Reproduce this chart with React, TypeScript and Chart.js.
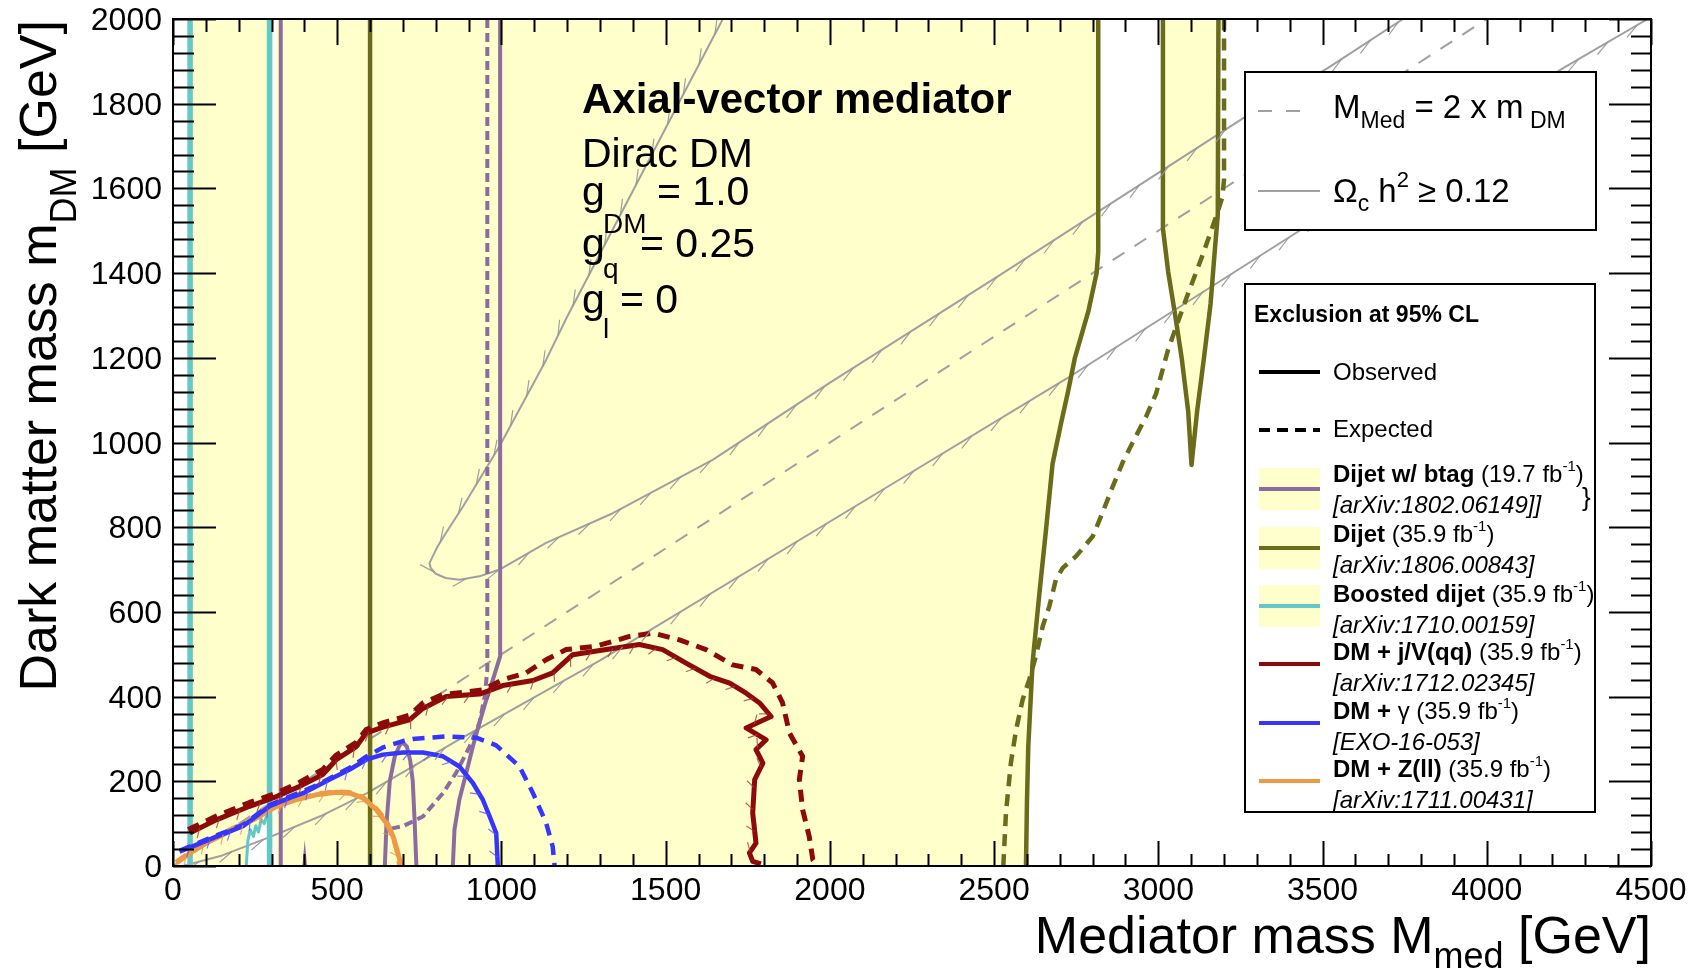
import React, { useEffect, useRef } from "react";
import { Chart, registerables } from "chart.js";

Chart.register(...registerables);

type P = [number, number];

// ---------------- axes ----------------
const X_MIN = 0;
const X_MAX = 4500;
const Y_MIN = 0;
const Y_MAX = 2000;
const X_TICKS = [0, 500, 1000, 1500, 2000, 2500, 3000, 3500, 4000, 4500];
const Y_TICKS = [0, 200, 400, 600, 800, 1000, 1200, 1400, 1600, 1800, 2000];
const X_MINOR_STEP = 100;
const Y_MINOR_STEP = 40;

// ---------------- excluded (yellow) regions ----------------
const yellowMain: P[] = [
  [52, 0], [52, 2000], [2817, 2000], [2817, 1450], [2812, 1400], [2787, 1310], [2746, 1200],
  [2725, 1120], [2704, 1046], [2678, 950], [2658, 794], [2637, 637], [2617, 479], [2604, 282],
  [2600, 150], [2597, 0],
];
const yellowLobe: P[] = [
  [3014, 2000], [3014, 1505], [3030, 1403], [3051, 1302], [3071, 1200], [3091, 1073], [3101, 947],
  [3118, 1073], [3139, 1200], [3159, 1327], [3172, 1454], [3181, 1538], [3183, 2000],
];
const whiteNotch: P[] = [
  [223, 0], [228, 60], [235, 86], [245, 70], [252, 95], [260, 80], [268, 110], [278, 100],
  [289, 125], [291, 0],
];
const whiteGap: P[] = [[309, 0], [309, 2000]];

// ---------------- Boosted dijet (cyan) ----------------
const boostedLeft: P[] = [[52, 0], [52, 2000]];
const boostedRight: P[] = [[294, 2000], [294, 0]];
const boostedJagged: P[] = [
  [294, 130], [285, 118], [278, 100], [268, 110], [260, 80], [252, 95], [245, 70], [235, 86],
  [228, 60], [223, 0],
];

// ---------------- Dijet w/ btag (purple) ----------------
const btagObsLeft: P[] = [[328, 0], [328, 2000]];
const btagObsRight: P[] = [
  [996, 2000], [996, 495], [974, 440], [954, 393], [933, 338], [913, 282], [893, 220], [872, 157],
  [857, 86], [852, 0],
];
const btagObsLobe: P[] = [
  [645, 0], [650, 100], [660, 200], [675, 258], [690, 285], [700, 292], [712, 282], [722, 250],
  [730, 200], [736, 100], [741, 0],
];
const btagSpike: P[] = [[394, 0], [401, 62], [408, 0]];
const btagExp: P[] = [
  [957, 2000], [957, 463], [949, 400], [933, 338], [903, 282], [862, 220], [822, 172], [761, 117],
  [700, 94], [649, 86],
];

// ---------------- Dijet (olive) ----------------
const dijetObsLeft: P[] = [[600, 0], [600, 2000]];
const dijetObsRight: P[] = [
  [2597, 0], [2600, 150], [2604, 282], [2617, 479], [2637, 637], [2658, 794], [2678, 950],
  [2704, 1046], [2725, 1120], [2746, 1200], [2787, 1310], [2812, 1400], [2817, 1450], [2817, 2000],
];
const dijetObsLobe: P[] = [
  [3014, 2000], [3014, 1505], [3030, 1403], [3051, 1302], [3071, 1200], [3091, 1073], [3101, 947],
  [3118, 1073], [3139, 1200], [3159, 1327], [3172, 1454], [3181, 1538], [3183, 2000],
];
const dijetExp: P[] = [
  [2528, 0], [2536, 125], [2551, 243], [2567, 322], [2587, 393], [2607, 440], [2627, 495],
  [2648, 566], [2668, 613], [2688, 676], [2709, 704], [2749, 731], [2800, 778], [2830, 834],
  [2861, 896], [2891, 952], [2921, 999], [2962, 1060], [2993, 1115], [3030, 1220], [3085, 1340],
  [3132, 1437], [3159, 1496], [3179, 1540], [3195, 1580], [3200, 1620], [3200, 2000],
];

// ---------------- DM + j/V(qq) (dark red) ----------------
const monoObs: P[] = [
  [51, 78], [132, 109], [233, 141], [315, 164], [386, 188], [456, 216], [497, 251], [558, 282],
  [588, 314], [639, 328], [720, 345], [761, 372], [832, 400], [933, 406], [1004, 426], [1096, 438],
  [1156, 456], [1217, 499], [1319, 511], [1420, 523], [1491, 511], [1562, 479], [1634, 448],
  [1695, 432], [1745, 408], [1786, 385], [1821, 353], [1745, 326], [1806, 298], [1775, 275],
  [1796, 243], [1771, 204], [1765, 125], [1775, 54], [1755, 31], [1765, 11], [1790, 5],
];
const monoExp: P[] = [
  [46, 86], [132, 118], [233, 150], [315, 172], [386, 198], [456, 228], [497, 262], [558, 292],
  [588, 322], [639, 338], [720, 356], [761, 385], [822, 405], [883, 410], [943, 416], [1004, 440],
  [1075, 456], [1136, 487], [1197, 511], [1288, 519], [1390, 542], [1461, 550], [1542, 534],
  [1623, 511], [1704, 475], [1775, 464], [1826, 432], [1856, 385], [1877, 314], [1917, 259],
  [1907, 204], [1917, 133], [1937, 70], [1948, 15], [1963, 0],
];

// ---------------- DM + gamma (blue) ----------------
const photonObs: P[] = [
  [20, 34], [112, 63], [213, 94], [294, 141], [355, 161], [396, 172], [436, 188], [477, 204],
  [538, 228], [588, 251], [639, 263], [700, 268], [761, 268], [822, 259], [872, 235], [913, 196],
  [943, 157], [964, 117], [984, 78], [989, 0],
];
const photonExp: P[] = [
  [20, 36], [112, 66], [213, 97], [294, 144], [355, 164], [436, 190], [538, 232], [588, 258],
  [639, 280], [700, 295], [730, 300], [832, 306], [923, 303], [984, 285], [1055, 235],
  [1096, 172], [1136, 102], [1156, 46], [1162, 0],
];

// ---------------- DM + Z(ll) (orange) ----------------
const zllObs: P[] = [
  [10, 7], [81, 46], [162, 78], [244, 109], [315, 141], [376, 157], [436, 168], [497, 174],
  [538, 172], [578, 161], [619, 133], [649, 102], [670, 70], [685, 31], [695, 0],
];
const zllExp: P[] = [
  [10, 10], [81, 50], [162, 82], [244, 112], [315, 143], [376, 159], [436, 170], [497, 176],
  [538, 174], [578, 163], [619, 136], [649, 108], [665, 80], [680, 40], [690, 0],
];

// ---------------- relic density / diagonal (gray) ----------------
const relicUpper: P[] = [
  [1674, 2000], [1551, 1818], [1400, 1594], [1200, 1297], [1136, 1195], [994, 991], [883, 849],
  [830, 785], [806, 755], [790, 730], [781, 715], [785, 703], [800, 690], [830, 680], [872, 676],
  [933, 684], [994, 700], [1136, 763], [1339, 833], [1643, 959], [1998, 1140], [2515, 1394],
  [3261, 1767], [3518, 1885], [3745, 2000],
];
const relicLower: P[] = [
  [30, 0], [150, 25], [300, 70], [450, 118], [591, 172], [869, 298], [1299, 485], [2211, 912],
  [2719, 1150], [3450, 1510], [4235, 1885], [4490, 2000],
];
const diagonal: P[] = [[0, 0], [4000, 2000]];

// ---------------- colours ----------------
const C_YELLOW = "#ffffcc";
const C_CYAN = "#62c8c8";
const C_PURPLE = "#8c6c9e";
const C_OLIVE = "#6b6b1c";
const C_RED = "#8c0a0a";
const C_BLUE = "#3535ff";
const C_ORANGE = "#ee9a45";
const C_GRAY = "#a0a0a0";

const FONT = '"Liberation Sans", Arial, Helvetica, sans-serif';

// legend rows
const LEGEND_ROWS = [
  { name: "Dijet w/ btag", lumi: "19.7", ref: "[arXiv:1802.06149]]", color: C_PURPLE, box: true, sym: "" },
  { name: "Dijet", lumi: "35.9", ref: "[arXiv:1806.00843]", color: C_OLIVE, box: true, sym: "" },
  { name: "Boosted dijet", lumi: "35.9", ref: "[arXiv:1710.00159]", color: C_CYAN, box: true, sym: "" },
  { name: "DM + j/V(qq)", lumi: "35.9", ref: "[arXiv:1712.02345]", color: C_RED, box: false, sym: "" },
  { name: "DM + ", lumi: "35.9", ref: "[EXO-16-053]", color: C_BLUE, box: false, sym: "\u03b3" },
  { name: "DM + Z(ll)", lumi: "35.9", ref: "[arXiv:1711.00431]", color: C_ORANGE, box: false, sym: "" },
];

// hatch decorations along contours (series, colour, spacing px, length px, rotation deg)
const HATCHED = [
  { pts: relicUpper, color: "rgba(150,150,150,0.9)", spacing: 34, len: 16, rot: 160 },
  { pts: relicLower, color: "rgba(150,150,150,0.9)", spacing: 34, len: 16, rot: 160 },
  { pts: monoObs, color: "rgba(170,60,60,0.8)", spacing: 22, len: 10, rot: 130 },
  { pts: photonObs, color: "rgba(90,90,255,0.8)", spacing: 22, len: 10, rot: 130 },
  { pts: zllObs, color: "rgba(230,150,80,0.8)", spacing: 22, len: 10, rot: 130 },
];

function toXY(pts: P[]) {
  return pts.map(([x, y]) => ({ x, y }));
}

function ds(
  label: string,
  pts: P[],
  color: string,
  width: number,
  order: number,
  dash: number[] = [],
  fillColor: string | null = null
) {
  return {
    label,
    data: toXY(pts),
    borderColor: fillColor ? "rgba(0,0,0,0)" : color,
    borderWidth: fillColor ? 0 : width,
    borderDash: dash,
    backgroundColor: fillColor || color,
    fill: fillColor ? "shape" : false,
    pointRadius: 0,
    pointHoverRadius: 0,
    tension: 0,
    order,
    borderCapStyle: "butt",
    borderJoinStyle: "round",
  };
}

type Seg = { t: string; size: number; bold?: boolean; italic?: boolean; dy?: number };

function segFont(s: Seg) {
  return `${s.italic ? "italic " : ""}${s.bold ? "bold " : ""}${s.size}px ${FONT}`;
}

function segsWidth(ctx: CanvasRenderingContext2D, segs: Seg[]) {
  let w = 0;
  for (const s of segs) {
    ctx.font = segFont(s);
    w += ctx.measureText(s.t).width;
  }
  return w;
}

function drawSegs(ctx: CanvasRenderingContext2D, x: number, y: number, segs: Seg[]) {
  let cx = x;
  for (const s of segs) {
    ctx.font = segFont(s);
    ctx.fillText(s.t, cx, y + (s.dy || 0));
    cx += ctx.measureText(s.t).width;
  }
  return cx;
}

function drawHatch(ctx: CanvasRenderingContext2D, xs: any, ys: any, h: any) {
  const px = h.pts.map(([x, y]: P) => [xs.getPixelForValue(x), ys.getPixelForValue(y)]);
  const r = (h.rot * Math.PI) / 180;
  const cr = Math.cos(r);
  const sr = Math.sin(r);
  ctx.strokeStyle = h.color;
  ctx.lineWidth = 1.2;
  ctx.beginPath();
  let carry = h.spacing / 2;
  for (let i = 0; i < px.length - 1; i++) {
    const [x0, y0] = px[i];
    const [x1, y1] = px[i + 1];
    const L = Math.hypot(x1 - x0, y1 - y0);
    if (L < 1e-6) continue;
    const ux = (x1 - x0) / L;
    const uy = (y1 - y0) / L;
    const hx = ux * cr - uy * sr;
    const hy = ux * sr + uy * cr;
    let d = carry;
    while (d <= L) {
      const sx = x0 + ux * d;
      const sy = y0 + uy * d;
      ctx.moveTo(sx, sy);
      ctx.lineTo(sx + hx * h.len, sy + hy * h.len);
      d += h.spacing;
    }
    carry = d - L;
  }
  ctx.stroke();
}

const overlayPlugin = {
  id: "overlay",
  afterDatasetsDraw(chart: any) {
    const ctx: CanvasRenderingContext2D = chart.ctx;
    const a = chart.chartArea;
    const xs = chart.scales.x;
    const ys = chart.scales.y;
    ctx.save();

    // ---- hatches along contours ----
    ctx.save();
    ctx.beginPath();
    ctx.rect(a.left, a.top, a.right - a.left, a.bottom - a.top);
    ctx.clip();
    for (const h of HATCHED) drawHatch(ctx, xs, ys, h);
    ctx.restore();

    ctx.textBaseline = "alphabetic";
    ctx.fillStyle = "#000";

    // ---- info text ----
    drawSegs(ctx, 582, 113, [{ t: "Axial-vector mediator", size: 42, bold: true }]);
    drawSegs(ctx, 582, 167, [{ t: "Dirac DM", size: 41 }]);
    drawSegs(ctx, 582, 205, [{ t: "g", size: 41 }]);
    drawSegs(ctx, 603, 233, [{ t: "DM", size: 28 }]);
    drawSegs(ctx, 657, 205, [{ t: "= 1.0", size: 41 }]);
    drawSegs(ctx, 582, 257, [{ t: "g", size: 41 }]);
    drawSegs(ctx, 603, 278, [{ t: "q", size: 28 }]);
    drawSegs(ctx, 640, 257, [{ t: "= 0.25", size: 41 }]);
    drawSegs(ctx, 582, 313, [{ t: "g", size: 41 }]);
    drawSegs(ctx, 603, 338, [{ t: "l", size: 28 }]);
    drawSegs(ctx, 620, 313, [{ t: "= 0", size: 41 }]);

    // ---- top legend ----
    ctx.fillStyle = "#fff";
    ctx.fillRect(1245, 72, 351, 158);
    ctx.strokeStyle = "#000";
    ctx.lineWidth = 2;
    ctx.strokeRect(1245, 72, 351, 158);
    ctx.strokeStyle = C_GRAY;
    ctx.lineWidth = 2;
    ctx.setLineDash([14, 14]);
    ctx.beginPath();
    ctx.moveTo(1258, 111);
    ctx.lineTo(1310, 111);
    ctx.stroke();
    ctx.setLineDash([]);
    ctx.beginPath();
    ctx.moveTo(1258, 191);
    ctx.lineTo(1320, 191);
    ctx.stroke();
    ctx.fillStyle = "#000";
    drawSegs(ctx, 1333, 118, [
      { t: "M", size: 33 },
      { t: "Med", size: 23, dy: 10 },
      { t: " = 2 x m", size: 33 },
      { t: " DM", size: 23, dy: 10 },
    ]);
    drawSegs(ctx, 1333, 202, [
      { t: "\u03a9", size: 33 },
      { t: "c", size: 23, dy: 9 },
      { t: " h", size: 33 },
      { t: "2", size: 22, dy: -15 },
      { t: " \u2265 0.12", size: 33 },
    ]);

    // ---- bottom legend ----
    ctx.fillStyle = "#fff";
    ctx.fillRect(1245, 284, 350, 528);
    ctx.strokeStyle = "#000";
    ctx.lineWidth = 2;
    ctx.strokeRect(1245, 284, 350, 528);
    ctx.fillStyle = "#000";
    drawSegs(ctx, 1254, 322, [{ t: "Exclusion at 95% CL", size: 23, bold: true }]);
    ctx.strokeStyle = "#000";
    ctx.lineWidth = 4;
    ctx.beginPath();
    ctx.moveTo(1259, 372);
    ctx.lineTo(1320, 372);
    ctx.stroke();
    drawSegs(ctx, 1333, 380, [{ t: "Observed", size: 24 }]);
    ctx.setLineDash([11, 7]);
    ctx.beginPath();
    ctx.moveTo(1259, 430);
    ctx.lineTo(1320, 430);
    ctx.stroke();
    ctx.setLineDash([]);
    drawSegs(ctx, 1333, 437, [{ t: "Expected", size: 24 }]);

    const rowY = [482, 542, 602, 660, 719, 777];
    const lineY = [489, 548, 606, 664, 723, 781];
    LEGEND_ROWS.forEach((r, i) => {
      const by = rowY[i];
      const ly = lineY[i];
      if (r.box) {
        ctx.fillStyle = C_YELLOW;
        ctx.fillRect(1259, ly - 21, 61, 42);
      }
      ctx.strokeStyle = r.color;
      ctx.lineWidth = 4;
      ctx.beginPath();
      ctx.moveTo(1259, ly);
      ctx.lineTo(1320, ly);
      ctx.stroke();
      ctx.fillStyle = "#000";
      const segs: Seg[] = [{ t: r.name, size: 24, bold: true }];
      if (r.sym) segs.push({ t: r.sym, size: 24 });
      segs.push({ t: ` (${r.lumi} fb`, size: 24 });
      segs.push({ t: "-1", size: 15, dy: -11 });
      segs.push({ t: ")", size: 24 });
      drawSegs(ctx, 1333, by, segs);
      drawSegs(ctx, 1333, by + 31, [{ t: r.ref, size: 24, italic: true }]);
    });
    drawSegs(ctx, 1582, 506, [{ t: "}", size: 26 }]);

    // ---- ticks (inside) ----
    ctx.strokeStyle = "#000";
    ctx.lineWidth = 2;
    ctx.beginPath();
    for (let v = X_MIN; v <= X_MAX; v += X_MINOR_STEP) {
      const px = Math.round(xs.getPixelForValue(v)) + 0.5;
      const major = X_TICKS.includes(v);
      ctx.moveTo(px, a.bottom);
      ctx.lineTo(px, a.bottom - (major ? 25 : 12));
      ctx.moveTo(px, a.top);
      ctx.lineTo(px, a.top + (major ? 26 : 13));
    }
    for (let v = Y_MIN; v <= Y_MAX; v += Y_MINOR_STEP) {
      const py = Math.round(ys.getPixelForValue(v)) + 0.5;
      const major = Y_TICKS.includes(v);
      ctx.moveTo(a.left, py);
      ctx.lineTo(a.left + (major ? 43 : 21), py);
      ctx.moveTo(a.right, py);
      ctx.lineTo(a.right - (major ? 42 : 20), py);
    }
    ctx.stroke();
    ctx.strokeRect(a.left, a.top, a.right - a.left, a.bottom - a.top);

    // ---- tick labels ----
    ctx.fillStyle = "#000";
    ctx.font = `32px ${FONT}`;
    ctx.textAlign = "center";
    for (const v of X_TICKS) {
      ctx.fillText(String(v), xs.getPixelForValue(v), 900);
    }
    ctx.textAlign = "right";
    for (const v of Y_TICKS) {
      ctx.fillText(String(v), 162, ys.getPixelForValue(v) + 11);
    }
    ctx.textAlign = "left";

    // ---- axis titles ----
    const xt: Seg[] = [
      { t: "Mediator mass M", size: 52 },
      { t: "med", size: 36, dy: 15 },
      { t: " [GeV]", size: 52 },
    ];
    const xw = segsWidth(ctx, xt);
    drawSegs(ctx, a.right - xw, 953, xt);

    const yt: Seg[] = [
      { t: "Dark matter mass m", size: 52 },
      { t: "DM", size: 36, dy: 20 },
      { t: " [GeV]", size: 52 },
    ];
    const yw = segsWidth(ctx, yt);
    ctx.save();
    ctx.translate(56, a.top + 1);
    ctx.rotate(-Math.PI / 2);
    drawSegs(ctx, -yw, 0, yt);
    ctx.restore();

    ctx.restore();
  },
};

export default function App() {
  const ref = useRef<HTMLCanvasElement>(null);
  useEffect(() => {
    document.body.style.margin = "0";
    const canvas = ref.current!;
    const datasets: any[] = [
      ds("yellow main", yellowMain, C_YELLOW, 0, 100, [], C_YELLOW),
      ds("yellow lobe", yellowLobe, C_YELLOW, 0, 99, [], C_YELLOW),
      ds("white notch", whiteNotch, "#fff", 0, 98, [], "#ffffff"),
      ds("white gap", whiteGap, "#ffffff", 2.5, 97),
      ds("diagonal", diagonal, C_GRAY, 2, 90, [14, 12]),
      ds("relic upper", relicUpper, C_GRAY, 2, 89),
      ds("relic lower", relicLower, C_GRAY, 2, 88),
      ds("btag spike", btagSpike, C_PURPLE, 1, 60, [], C_PURPLE),
      ds("boosted left", boostedLeft, C_CYAN, 5.5, 50),
      ds("boosted right", boostedRight, C_CYAN, 5.5, 50),
      ds("boosted jagged", boostedJagged, C_CYAN, 3, 50),
      ds("btag obs left", btagObsLeft, C_PURPLE, 4, 45),
      ds("btag obs right", btagObsRight, C_PURPLE, 4, 45),
      ds("btag obs lobe", btagObsLobe, C_PURPLE, 4, 45),
      ds("btag exp", btagExp, C_PURPLE, 4, 44, [9, 5]),
      ds("dijet obs left", dijetObsLeft, C_OLIVE, 4.5, 40),
      ds("dijet obs right", dijetObsRight, C_OLIVE, 4.5, 40),
      ds("dijet obs lobe", dijetObsLobe, C_OLIVE, 4.5, 40),
      ds("dijet exp", dijetExp, C_OLIVE, 4.5, 39, [12, 8]),
      ds("zll exp", zllExp, C_ORANGE, 4.5, 31, [12, 8]),
      ds("zll obs", zllObs, C_ORANGE, 5, 30),
      ds("photon exp", photonExp, C_BLUE, 4.5, 21, [12, 8]),
      ds("photon obs", photonObs, C_BLUE, 4.5, 20),
      ds("mono exp", monoExp, C_RED, 5, 11, [12, 8]),
      ds("mono obs", monoObs, C_RED, 5, 10),
    ];
    const chart = new Chart(canvas, {
      type: "line",
      data: { datasets },
      options: {
        animation: false,
        responsive: false,
        devicePixelRatio: 1,
        events: [],
        layout: { padding: { left: 173, right: 47, top: 19, bottom: 102 } },
        plugins: { legend: { display: false }, tooltip: { enabled: false }, title: { display: false } },
        scales: {
          x: { type: "linear", min: X_MIN, max: X_MAX, display: false },
          y: { type: "linear", min: Y_MIN, max: Y_MAX, display: false },
        },
      },
      plugins: [overlayPlugin],
    } as any);
    return () => chart.destroy();
  }, []);
  return (
    <div style={{ position: "absolute", left: 0, top: 0, width: 1698, height: 968, background: "#fff" }}>
      <canvas ref={ref} width={1698} height={968} style={{ display: "block" }} />
    </div>
  );
}
